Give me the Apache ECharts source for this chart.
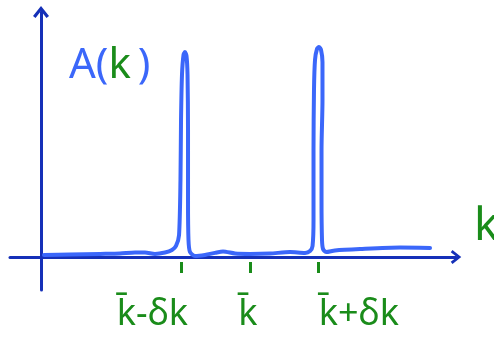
<!DOCTYPE html>
<html>
<head>
<meta charset="utf-8">
<script src="https://cdn.jsdelivr.net/npm/echarts@6/dist/echarts.min.js"></script>
<style>html,body{margin:0;padding:0;background:#fff}#c{width:494px;height:339px}</style>
</head>
<body>
<div id="c"></div>
<script>
// k in units of delta-k (y axis at k = 0), A(k) normalised to first peak
var kValues = [0.044,0.423,0.861,1.153,1.372,1.518,1.664,1.810,
  1.912,1.971,2.015,2.036,2.044,2.058,2.080,2.102,2.124,2.139,2.146,2.146,2.153,2.175,
  2.248,2.394,2.540,2.657,2.832,3.051,3.343,3.635,3.854,
  3.927,3.964,3.978,3.978,3.985,4.000,4.029,4.058,4.088,4.109,4.109,4.095,4.095,4.102,4.117,4.161,
  4.292,4.657,5.241,5.679];
var aValues = [0.010,0.012,0.015,0.017,0.022,0.022,0.015,0.022,
  0.034,0.054,0.107,0.376,0.668,0.888,0.985,1.000,0.980,0.888,0.620,0.278,0.083,0.024,
  0.005,0.010,0.020,0.027,0.017,0.015,0.017,0.024,0.020,
  0.029,0.054,0.180,0.522,0.815,0.961,1.015,1.024,1.010,0.951,0.766,0.522,0.278,0.083,0.039,0.024,
  0.032,0.039,0.046,0.044];
var tickValues = [2.05, 3.05, 4.04];
var tickLabels = ['k\u0304-\u03b4k', 'k\u0304', 'k\u0304+\u03b4k'];
var tickStyles = ['l', 'm', 'r'];

var axisBlue = '#1530b8';
var curveBlue = '#3b67fa';
var green = '#1a8c1a';
var chevron = 'path://M8,0 L16,10 L13.5,12 L8,5 L2.5,12 L0,10 Z';
var labelFont = 'Noto Sans';

var series = kValues.map(function (k, i) { return [k, aValues[i]]; });

var chart = echarts.init(document.getElementById('c'), null, {renderer: 'canvas'});
chart.setOption({
  animation: false,
  title: {
    left: 64, top: 40,
    text: '{b|A(}{g|k}{b|\u2009)}',
    textStyle: {
      fontWeight: 'normal',
      rich: {
        b: {fontFamily: labelFont, fontSize: 42, fontWeight: 'normal', color: curveBlue},
        g: {fontFamily: labelFont, fontSize: 42, fontWeight: 'normal', color: green}
      }
    }
  },
  grid: {left: 10, right: 38, top: 12, bottom: 49, containLabel: false, outerBoundsMode: 'none'},
  xAxis: [{
    type: 'value', min: -0.4526, max: 6.058,
    axisLine: {onZero: true, symbol: ['none', chevron], symbolSize: [14, 13],
      lineStyle: {color: axisBlue, width: 3}},
    axisTick: {show: false}, axisLabel: {show: false}, splitLine: {show: false},
    name: 'k', nameLocation: 'end', nameGap: 18,
    nameTextStyle: {color: green, fontFamily: labelFont, fontSize: 46, verticalAlign: 'bottom', padding: [0, 0, 7, 0]}
  }, {
    type: 'value', min: -0.4526, max: 6.058, position: 'bottom', offset: -17,
    axisLine: {show: false, onZero: false},
    axisTick: {show: true, inside: true, length: 11, customValues: tickValues,
      lineStyle: {color: green, width: 3}},
    axisLabel: {show: true, customValues: tickValues, margin: 24,
      formatter: function (v) {
        for (var i = 0; i < tickValues.length; i++) {
          if (Math.abs(v - tickValues[i]) < 1e-6) return '{' + tickStyles[i] + '|' + tickLabels[i] + '}';
        }
        return '';
      },
      rich: {
        l: {fontFamily: labelFont, fontSize: 36, color: green, padding: [0, 58, 0, 0]},
        m: {fontFamily: labelFont, fontSize: 36, color: green, padding: [0, 4, 0, 0]},
        r: {fontFamily: labelFont, fontSize: 36, color: green, padding: [0, 0, 0, 82]}
      }
    },
    splitLine: {show: false}
  }],
  yAxis: {
    type: 'value', min: -0.161, max: 1.195,
    axisLine: {show: true, onZero: true, symbol: ['none', chevron], symbolSize: [16, 13],
      lineStyle: {color: axisBlue, width: 3}},
    axisTick: {show: false}, axisLabel: {show: false}, splitLine: {show: false}
  },
  series: [{
    type: 'line', xAxisIndex: 0, data: series, showSymbol: false, smooth: 0.25,
    lineStyle: {color: curveBlue, width: 4, cap: 'round', join: 'round'},
    z: 1
  }]
});
</script>
</body>
</html>
